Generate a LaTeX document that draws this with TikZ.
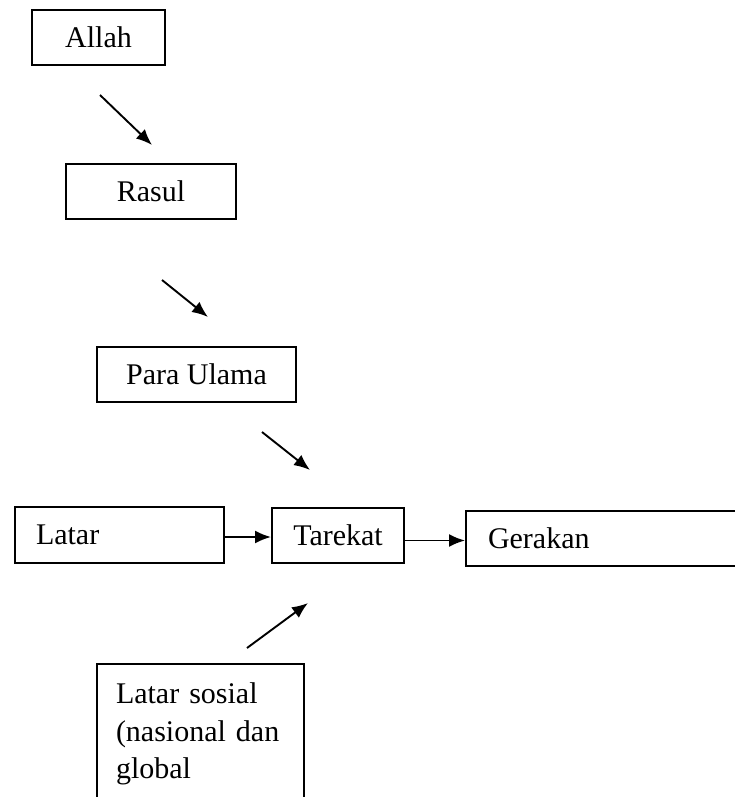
\documentclass[tikz,border=0pt]{standalone}
\usepackage{fontspec}
\setmainfont{Liberation Serif}
\usetikzlibrary{arrows.meta}
\tikzset{
  kotak/.style={draw,line width=2pt,minimum height=55pt,inner sep=0pt,
    font=\fontsize{30}{37.5}\selectfont},
  kotakkiri/.style={kotak,align=left,inner xsep=21pt},
  panah/.style={line width=1.9pt,-{Latex[length=16pt,width=13pt]}}
}

\begin{document}
\begin{tikzpicture}[x=1pt,y=-1pt]
  \useasboundingbox (0,0) rectangle (735,797);
  \clip (0,0) rectangle (735,797);
  % jalur atas
  \node[kotak,minimum width=133pt] (allah) at (98.5,37.5) {Allah};
  \node[kotak,minimum width=170pt] (rasul) at (151,191.5) {Rasul};
  \node[kotak,minimum width=199pt] (ulama) at (196.5,374.5) {Para Ulama};
  % baris tengah
  \node[kotakkiri,anchor=west,text width=167pt,minimum height=56pt] (latar) at (14,535) {Latar};
  \node[kotak,minimum width=132pt] (tarekat) at (338,535.5) {Tarekat};
  \node[kotakkiri,anchor=west,inner xsep=22pt,text width=271pt] (gerakan) at (465,538.5) {Gerakan};
  % bawah
  \node[kotakkiri,anchor=north west,inner xsep=19pt,inner ysep=19pt,text width=169pt]
    (sosial) at (96,663) {Latar sosial\\(nasional dan\\global\rule[-45pt]{0pt}{45pt}};
  \coordinate (p1) at (100,95);
  \coordinate (q1) at (152,145);
  \coordinate (p2) at (162,280);
  \coordinate (q2) at (208,317);
  \coordinate (p3) at (262,432);
  \coordinate (q3) at (310,470);
  \coordinate (p4) at (247,648);
  \coordinate (q4) at (308,603);
  \draw[panah] (p1) -- (q1);
  \draw[panah] (p2) -- (q2);
  \draw[panah] (p3) -- (q3);
  \draw[panah] (p4) -- (q4);
  \draw[panah] ([yshift=-2pt]latar.east) -- ([yshift=-2pt]latar.east -| tarekat.west);
  \draw[panah] ([yshift=-5pt]tarekat.east) -- ([yshift=-5pt]tarekat.east -| gerakan.west);
\end{tikzpicture}
\end{document}
